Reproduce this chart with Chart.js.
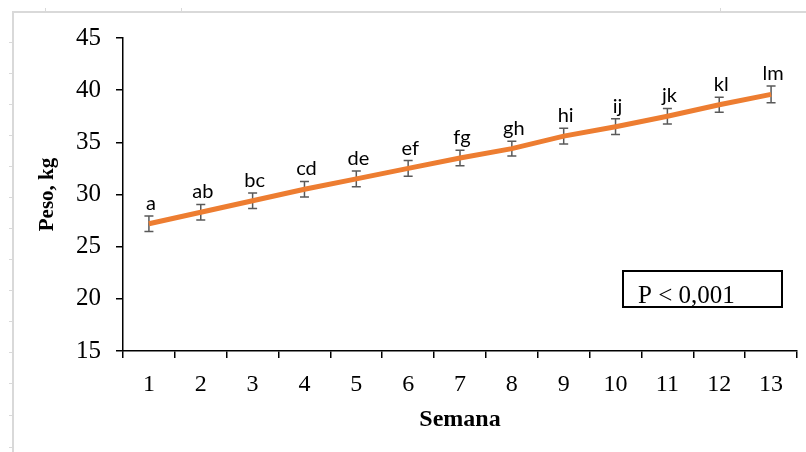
<!DOCTYPE html>
<html>
<head>
<meta charset="utf-8">
<script src="https://cdn.jsdelivr.net/npm/chart.js@4"></script>
<style>
  body { margin: 0; background: #fff; }
  #wrap { width: 806px; height: 452px; position: relative; }
</style>
</head>
<body>
<div id="wrap"><canvas id="chart" width="806" height="452"></canvas></div>
<script>
var weeks = ["1", "2", "3", "4", "5", "6", "7", "8", "9", "10", "11", "12", "13"];
var weight = [27.2, 28.3, 29.4, 30.5, 31.5, 32.5, 33.5, 34.4, 35.6, 36.5, 37.5, 38.6, 39.6];
var errs = [0.75, 0.75, 0.75, 0.75, 0.75, 0.75, 0.75, 0.7, 0.75, 0.75, 0.75, 0.72, 0.8];
var letters = ["a", "ab", "bc", "cd", "de", "ef", "fg", "gh", "hi", "ij", "jk", "kl", "lm"];
var pText = "P < 0,001";

// sheet frame + error bars + letters + P box
var extras = {
  id: "extras",
  beforeDraw: function (chart) {
    var c = chart.ctx;
    c.save();
    c.strokeStyle = "#d9d9d9";
    c.lineWidth = 2;
    c.beginPath();
    c.moveTo(13, 452); c.lineTo(13, 12); c.lineTo(806, 12);
    c.stroke();
    c.lineWidth = 1;
    c.beginPath();
    [42, 73, 104, 135, 166, 197, 228, 259, 290, 321, 352, 383, 415, 447].forEach(function (y) {
      c.moveTo(9, y + 0.5); c.lineTo(12, y + 0.5);
    });
    [45, 181, 720].forEach(function (x) {
      c.moveTo(x + 0.5, 8); c.lineTo(x + 0.5, 11);
    });
    c.stroke();
    c.restore();
  },
  beforeDatasetsDraw: function (chart) {
    var c = chart.ctx;
    var xs = chart.scales.x, ys = chart.scales.y;
    c.save();
    c.strokeStyle = "#595959";
    c.lineWidth = 1.5;
    c.beginPath();
    for (var i = 0; i < weight.length; i++) {
      var x = xs.getPixelForValue(i);
      var y1 = ys.getPixelForValue(weight[i] + errs[i]);
      var y2 = ys.getPixelForValue(weight[i] - errs[i]);
      c.moveTo(x, y1); c.lineTo(x, y2);
      c.moveTo(x - 4.5, y1); c.lineTo(x + 4.5, y1);
      c.moveTo(x - 4.5, y2); c.lineTo(x + 4.5, y2);
    }
    c.stroke();
    c.restore();
  },
  afterDraw: function (chart) {
    var c = chart.ctx;
    var xs = chart.scales.x, ys = chart.scales.y;
    c.save();
    c.fillStyle = "#000";
    c.font = "20px Lato";
    c.textAlign = "center";
    c.textBaseline = "alphabetic";
    for (var i = 0; i < letters.length; i++) {
      var x = xs.getPixelForValue(i) + 2;
      var y = ys.getPixelForValue(weight[i] + errs[i]) - 6;
      c.fillText(letters[i], x, y);
    }
    // P value box
    c.strokeStyle = "#000";
    c.lineWidth = 2;
    c.beginPath();
    c.moveTo(623, 271);
    c.lineTo(782, 271);
    c.lineTo(782, 307);
    c.lineTo(623, 307);
    c.closePath();
    c.stroke();
    c.font = "25px 'Liberation Serif'";
    c.textAlign = "left";
    c.fillText(pText, 638, 303);
    c.restore();
  }
};

var ctx = document.getElementById("chart");
var chart = new Chart(ctx, {
  type: "line",
  data: {
    labels: weeks,
    datasets: [{
      data: weight,
      borderColor: "#ED7D31",
      borderWidth: 5,
      pointRadius: 0,
      fill: false,
      tension: 0
    }]
  },
  options: {
    responsive: false,
    animation: false,
    layout: { padding: { top: 38, right: 9, bottom: 0, left: 0 } },
    plugins: { legend: { display: false }, tooltip: { enabled: false } },
    scales: {
      x: {
        offset: true,
        grid: { offset: true, drawOnChartArea: false, drawTicks: true, tickLength: 7, color: "#000", lineWidth: 1.5 },
        border: { display: true, color: "#000", width: 1.5 },
        ticks: { color: "#000", font: { family: "Liberation Serif", size: 24 }, padding: 12, maxRotation: 0, autoSkip: false },
        title: { display: true, text: "Semana", color: "#000", font: { family: "Liberation Serif", size: 24, weight: "bold" }, padding: { top: 0, bottom: 18 } },
        afterFit: function (s) { s.height = 101; }
      },
      y: {
        min: 15,
        max: 45,
        ticks: { stepSize: 5, color: "#000", font: { family: "Liberation Serif", size: 25 }, padding: 15 },
        grid: { drawOnChartArea: false, drawTicks: true, tickLength: 7, color: "#000", lineWidth: 1.5 },
        border: { display: true, color: "#000", width: 1.5 },
        title: { display: true, text: "Peso, kg", color: "#000", font: { family: "Liberation Serif", size: 21, weight: "bold" }, padding: { top: 35, bottom: 0 } },
        afterFit: function (s) { s.width = 123; }
      }
    }
  },
  plugins: [extras]
});
</script>
</body>
</html>
